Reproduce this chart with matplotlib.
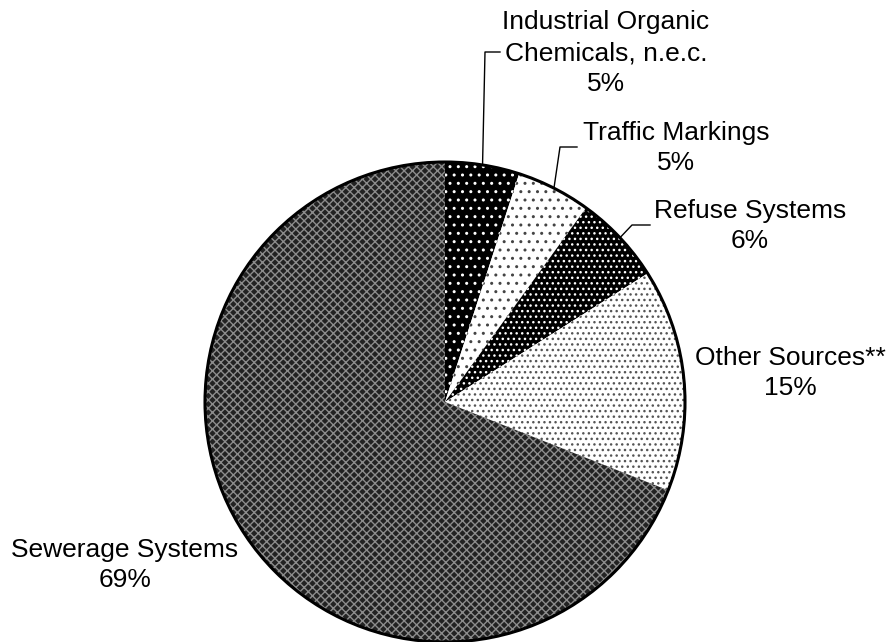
import numpy as np
import matplotlib
matplotlib.use('Agg')
import matplotlib.pyplot as plt
from matplotlib.patches import Circle

plt.rcParams['font.family'] = ['Liberation Sans', 'DejaVu Sans']
plt.rcParams['hatch.linewidth'] = 1.0

# Data
categories = ['Industrial Organic\nChemicals, n.e.c.', 'Traffic Markings',
              'Refuse Systems', 'Other Sources**', 'Sewerage Systems']
shares = [5, 5, 6, 15, 69]

# Fill styles: face colour, hatch, hatch colour
faces = ['black', 'white', 'black', 'white', '#222222']
hatches = ['..', '..', '...', '...', 'xxxx']
hatch_colors = ['white', '#444444', 'white', '#555555', '#8c8c8c']

W, H = 888, 642
fig = plt.figure(figsize=(W / 100, H / 100), dpi=100)
ax = fig.add_axes([0, 0, 1, 1])

cx, cy, r = 445, H - 402, 240
wedges, _ = ax.pie(shares, startangle=90, counterclock=False,
                   center=(cx, cy), radius=r, frame=True,
                   wedgeprops=dict(linewidth=0))
for w, fc, hc, hh in zip(wedges, faces, hatch_colors, hatches):
    w.set_facecolor(fc)
    w.set_edgecolor(hc)
    w.set_hatch(hh)
ax.set_xlim(0, W)
ax.set_ylim(0, H)
ax.set_aspect('equal')
ax.axis('off')

ax.add_patch(Circle((cx, cy), r, fill=False, edgecolor='black', lw=2.2, zorder=5))

fs = 19
labels = [f'{c}\n{s}%' for c, s in zip(categories, shares)]

# label centres (pixels, image coords) and leader paths
label_pos = [(606, 53), (676, 148), (750, 226), (790, 373), (125, 565)]
leaders = [[(485, 52), (500, 52)],
           [(560, 147), (577, 147)],
           [(632, 225), (650, 225)],
           None, None]

for w, lab, (lx, ly), lead in zip(wedges, labels, label_pos, leaders):
    ax.text(lx, H - ly, lab, ha='center', va='center', fontsize=fs,
            linespacing=1.36)
    if lead:
        mid = np.deg2rad((w.theta1 + w.theta2) / 2)
        px, py = cx + r * np.cos(mid), cy + r * np.sin(mid)
        xs = [px] + [p[0] for p in lead]
        ys = [py] + [H - p[1] for p in lead]
        ax.plot(xs, ys, color='black', lw=1, zorder=6)

fig.savefig('out.png', dpi=100)
